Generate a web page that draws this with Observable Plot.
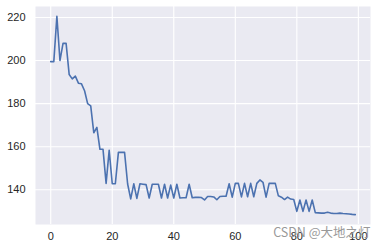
<!DOCTYPE html>
<html>
<head>
<meta charset="utf-8">
<script src="https://cdn.jsdelivr.net/npm/d3@7"></script>
<script src="https://cdn.jsdelivr.net/npm/@observablehq/plot@0.6"></script>
<style>
  html, body { margin: 0; padding: 0; background: #fff; }
  #chart { position: relative; width: 377px; height: 251px; }
  svg { overflow: visible; }
</style>
</head>
<body>
<div id="chart"></div>
<script>
const values = [
  199.5, 199.5, 220.5, 200, 208, 208, 193.5, 191.5, 192.8, 189.5,
  189.2, 186, 180, 179, 166.5, 169, 158.8, 158.8, 143, 158.3,
  142.8, 142.8, 157.4, 157.4, 157.4, 142.7, 135.8, 142.8, 136, 142.8,
  142.6, 142.4, 136.2, 142.6, 142.6, 142.6, 136.2, 142.6, 136.2, 142.2,
  136.2, 142.6, 136.2, 136.3, 136.3, 142.6, 136.3, 136.5, 136.5, 136.4,
  135.3, 136.9, 136.9, 136.7, 135.4, 136.9, 137, 137, 142.8, 136.6,
  143, 143, 136.7, 143, 136.8, 143, 136.8, 143, 144.6, 143.5,
  136.6, 143, 143, 143, 137.2, 136.6, 135.5, 136.6, 135.7, 135.5,
  130, 135.3, 130, 135.3, 130, 135.3, 129.4, 129.3, 129.2, 129.2,
  129.6, 129.2, 129.0, 129.0, 129.2, 129.0, 128.9, 128.8, 128.6, 128.5
];
const steps = values.map((_, i) => i);
const xTicks = [0, 20, 40, 60, 80, 100];
const yTicks = [140, 160, 180, 200, 220];
const watermark = "CSDN @大地之灯";

const data = steps.map((s, i) => ({step: s, value: values[i]}));

const chart = Plot.plot({
  width: 377,
  height: 251,
  marginLeft: 35,
  marginRight: 7,
  marginTop: 6,
  marginBottom: 27,
  style: {fontFamily: "'Liberation Sans', Arial, sans-serif", fontSize: "11px", color: "#262626", background: "transparent"},
  x: {domain: [-4.95, 103.95], ticks: xTicks},
  y: {domain: [123.9, 225.1], ticks: yTicks},
  marks: [
    Plot.frame({fill: "#EAEAF2", stroke: null}),
    Plot.gridX(xTicks, {stroke: "#fff", strokeOpacity: 1, strokeWidth: 1.1}),
    Plot.gridY(yTicks, {stroke: "#fff", strokeOpacity: 1, strokeWidth: 1.1}),
    Plot.axisX(xTicks, {tickSize: 0, tickPadding: 8, label: null, fill: "#262626"}),
    Plot.axisY(yTicks, {tickSize: 0, tickPadding: 10, label: null, fill: "#262626"}),
    Plot.line(data, {x: "step", y: "value", stroke: "#4C72B0", strokeWidth: 1.6}),
    Plot.text([watermark], {frameAnchor: "bottom-right", text: d => d, dx: 0, dy: 12, fill: "#999", fontSize: 12.5, fontFamily: "'Noto Sans CJK SC', sans-serif", textAnchor: "end"})
  ]
});
document.getElementById("chart").appendChild(chart);
</script>
</body>
</html>
